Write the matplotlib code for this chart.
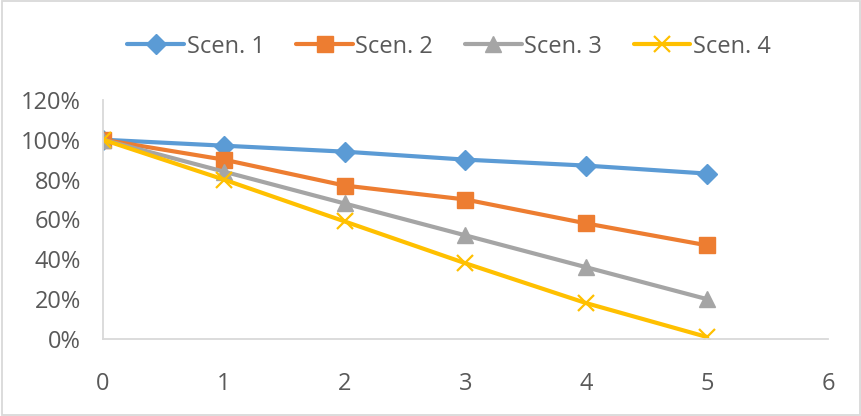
import matplotlib

matplotlib.use("Agg")

import matplotlib.pyplot as plt
from matplotlib.patches import Rectangle
from matplotlib.ticker import PercentFormatter

periods = [0, 1, 2, 3, 4, 5]
scen_1 = [1.00, 0.97, 0.94, 0.90, 0.87, 0.83]
scen_2 = [1.00, 0.90, 0.77, 0.70, 0.58, 0.47]
scen_3 = [1.00, 0.84, 0.68, 0.52, 0.36, 0.20]
scen_4 = [1.00, 0.80, 0.59, 0.38, 0.18, 0.01]
labels = ["Scen. 1", "Scen. 2", "Scen. 3", "Scen. 4"]

plt.rcParams["font.family"] = ["Open Sans", "DejaVu Sans"]
text_color = "#595959"
axis_color = "#D9D9D9"

fig = plt.figure(figsize=(8.62, 4.16), dpi=100)
ax = fig.add_axes([0.1195, 0.185, 0.841, 0.575])

styles = [
    (scen_1, "#5B9BD5", "D", 10, 1.0),
    (scen_2, "#ED7D31", "s", 12, 1.0),
    (scen_3, "#A5A5A5", "^", 12, 1.0),
    (scen_4, "#FFC000", "x", 11, 1.6),
]
for (values, color, marker, size, mew), label in zip(styles, labels):
    ax.plot(periods, values, color=color, linewidth=3, marker=marker,
            markersize=size, markeredgewidth=mew, markeredgecolor=color,
            label=label, solid_capstyle="round")

ax.set_xlim(0, 6)
ax.set_ylim(0, 1.2)
ax.set_xticks(range(0, 7))
ax.set_yticks([0, 0.2, 0.4, 0.6, 0.8, 1.0, 1.2])
ax.yaxis.set_major_formatter(PercentFormatter(1.0, decimals=0))
ax.tick_params(length=0, labelsize=17, colors=text_color)
ax.tick_params(axis="x", pad=24)
ax.tick_params(axis="y", pad=16)
for side in ("top", "right"):
    ax.spines[side].set_visible(False)
for side in ("left", "bottom"):
    ax.spines[side].set_color(axis_color)
    ax.spines[side].set_linewidth(1.3)

fig.legend(loc="center", bbox_to_anchor=(0.521, 0.888), ncol=4, frameon=False,
           fontsize=17, labelcolor=text_color, handlelength=2.4,
           handletextpad=0.1, columnspacing=1.35)

fig.patches.append(Rectangle((0.002, 0.003), 0.996, 0.994, transform=fig.transFigure,
                             fill=False, edgecolor=axis_color, linewidth=1.3))

fig.savefig("out.png", facecolor="white")
